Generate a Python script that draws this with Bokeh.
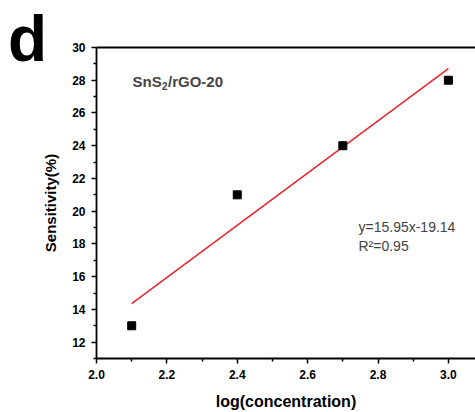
from bokeh.plotting import figure
from bokeh.models import Label, LinearAxis, Range1d, FixedTicker, CustomJSTickFormatter, Div
from bokeh.layouts import column
from bokeh.embed import file_html
from bokeh.resources import INLINE
import numpy as np

log_conc = [2.1, 2.4, 2.7, 3.0]
sensitivity = [13, 21, 24, 28]
slope, intercept = 15.95, -19.14
x_ticks = [2.0, 2.2, 2.4, 2.6, 2.8, 3.0]
x_minor = [2.1, 2.3, 2.5, 2.7, 2.9]
y_ticks = [12, 14, 16, 18, 20, 22, 24, 26, 28, 30]
y_minor = [11, 13, 15, 17, 19, 21, 23, 25, 27, 29]

FONT = "Liberation Sans"
L, T, B = 96, 47, 53

p = figure(width=475, height=412, output_backend="svg", toolbar_location=None,
           x_range=Range1d(2.0, 3.077), y_range=Range1d(11, 30),
           min_border_left=L, min_border_right=0, min_border_top=T, min_border_bottom=B)
p.outline_line_color = None
p.grid.visible = False

fit_x = np.array([min(log_conc), max(log_conc)])
fit_y = slope * fit_x + intercept
p.line(fit_x, fit_y, line_color="#e8232a", line_width=1.5)
p.scatter(log_conc, sensitivity, marker="square", size=8, fill_color="black", line_color="black")

for ax in (p.xaxis[0], p.yaxis[0]):
    ax.axis_line_width = 1.8
    ax.axis_line_color = "black"
    ax.major_tick_line_width = 1.5
    ax.minor_tick_line_width = 1.5
    ax.major_tick_in = 0
    ax.major_tick_out = 5
    ax.minor_tick_in = 0
    ax.minor_tick_out = 3
    ax.major_label_text_font = FONT
    ax.major_label_text_font_style = "bold"
    ax.major_label_text_font_size = "12px"
    ax.major_label_text_color = "black"
    ax.axis_label_text_font = FONT
    ax.axis_label_text_font_style = "bold"
    ax.axis_label_text_font_size = "16px"
    ax.axis_label_text_color = "black"

p.xaxis.ticker = FixedTicker(ticks=x_ticks, minor_ticks=x_minor)
p.yaxis.ticker = FixedTicker(ticks=y_ticks, minor_ticks=y_minor)
p.xaxis.formatter = CustomJSTickFormatter(code="return tick.toFixed(1);")
p.xaxis.axis_label = "log(concentration)"
p.yaxis.axis_label = "Sensitivity(%)"
p.yaxis.axis_label_text_font_size = "15px"
p.xaxis.major_label_standoff = 6
p.yaxis.major_label_standoff = 6
p.xaxis.axis_label_standoff = 11
p.yaxis.axis_label_standoff = 10

top = LinearAxis(ticker=FixedTicker(ticks=[]), axis_line_width=1.8, axis_line_color="black",
                 major_tick_line_color=None, minor_tick_line_color=None,
                 major_label_text_font_size="0px")
p.add_layout(top, "above")

sx, sy = 132 - L, (412 - B) - 82
p.add_layout(Label(x=sx, y=sy, x_units="screen", y_units="screen",
                   text="SnS", text_font=FONT, text_font_style="bold", text_font_size="15px",
                   text_baseline="alphabetic"))
p.add_layout(Label(x=sx + 29.5, y=sy - 4, x_units="screen", y_units="screen",
                   text="2", text_font=FONT, text_font_style="bold", text_font_size="10px",
                   text_baseline="alphabetic"))
p.add_layout(Label(x=sx + 35.5, y=sy, x_units="screen", y_units="screen",
                   text="/rGO-20", text_font=FONT, text_font_style="bold", text_font_size="15px",
                   text_baseline="alphabetic"))

p.add_layout(Label(x=358 - L, y=(412 - B) - 227, x_units="screen", y_units="screen",
                   text="y=15.95x-19.14", text_font=FONT, text_font_size="14px",
                   text_baseline="alphabetic"))
p.add_layout(Label(x=358 - L, y=(412 - B) - 246, x_units="screen", y_units="screen",
                   text="R\u00b2=0.95", text_font=FONT, text_font_size="14px",
                   text_baseline="alphabetic"))

# panel letter, overlaid on the top-left corner of the figure
letter = Div(text="d", width=60, height=80,
             styles={"position": "absolute", "left": "8px", "top": "7px", "z-index": "10",
                     "font-family": "'Liberation Sans'", "font-weight": "bold",
                     "font-size": "64px", "line-height": "64px", "color": "black",
                     "margin": "0", "padding": "0"})

layout = column(p, letter)
open("out.html", "w").write(file_html(layout, INLINE))
